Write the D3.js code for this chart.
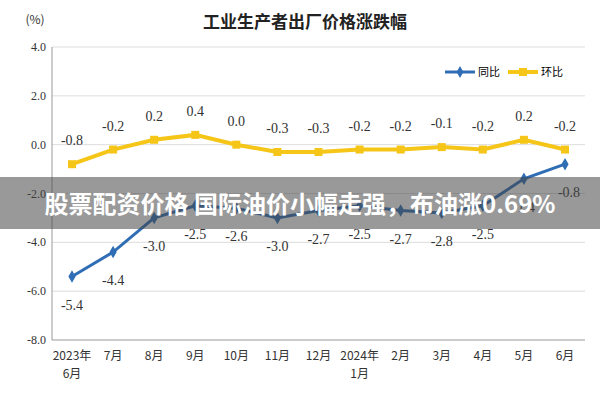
<!DOCTYPE html>
<html><head><meta charset="utf-8">
<script src="https://cdn.jsdelivr.net/npm/d3@7"></script>
<style>body{margin:0;background:#fff}</style></head>
<body><svg id="c" width="600" height="400"></svg>
<script>
const categories = [["2023年","6月"],["7月"],["8月"],["9月"],["10月"],["11月"],["12月"],["2024年","1月"],["2月"],["3月"],["4月"],["5月"],["6月"]];
const yoy = [-5.4,-4.4,-3.0,-2.5,-2.6,-3.0,-2.7,-2.5,-2.7,-2.8,-2.5,-1.4,-0.8];
const mom = [-0.8,-0.2,0.2,0.4,0.0,-0.3,-0.3,-0.2,-0.2,-0.1,-0.2,0.2,-0.2];
const yTicks = [4,2,0,-2,-4,-6,-8];
const svg = d3.select("#c");
const x = d3.scalePoint().domain(d3.range(categories.length)).range([72,565]);
const y = d3.scaleLinear().domain([-8,4]).range([340,47]);
const serif = "'Liberation Serif','DejaVu Serif',serif";
const sans = "'Noto Sans CJK SC',sans-serif";
svg.append("g").selectAll("line").data(yTicks).join("line")
  .attr("x1",52).attr("x2",585).attr("y1",d=>y(d)).attr("y2",d=>y(d))
  .attr("stroke",d=>d===-8?"#999":"#ddd");
svg.append("line").attr("x1",52).attr("x2",52).attr("y1",47).attr("y2",340).attr("stroke","#999");
svg.append("g").selectAll("text").data(yTicks).join("text")
  .attr("x",46).attr("y",d=>y(d)+4).attr("text-anchor","end")
  .attr("font-family",serif).attr("font-size",12).attr("fill","#333").text(d=>d.toFixed(1));
const xl = svg.append("g").selectAll("text").data(categories).join("text")
  .attr("x",(d,i)=>x(i)).attr("y",360).attr("text-anchor","middle")
  .attr("font-family",sans).attr("font-size",12).attr("fill","#333");
xl.selectAll("tspan").data(d=>d).join("tspan").attr("x",function(){return this.parentNode.getAttribute("x")})
  .attr("dy",(d,i)=>i?18:0).text(d=>d);
svg.append("text").attr("x",35).attr("y",24).attr("text-anchor","middle").attr("font-family",sans).attr("font-size",12).attr("fill","#333").text("(%)");
svg.append("text").attr("x",305).attr("y",28).attr("text-anchor","middle").attr("font-family",sans).attr("font-size",17).attr("font-weight","bold").attr("fill","#222").text("工业生产者出厂价格涨跌幅");
const line = d3.line().x((d,i)=>x(i)).y(d=>y(d));
const blue="#2f6db5", yel="#f5c518";
svg.append("path").datum(mom).attr("d",line).attr("fill","none").attr("stroke",yel).attr("stroke-width",4);
svg.append("g").selectAll("rect").data(mom).join("rect").attr("x",(d,i)=>x(i)-4).attr("y",d=>y(d)-4).attr("width",8).attr("height",8).attr("fill",yel);
svg.append("path").datum(yoy).attr("d",line).attr("fill","none").attr("stroke",blue).attr("stroke-width",3);
svg.append("g").selectAll("path").data(yoy).join("path").attr("d",d3.symbol(d3.symbolDiamond,45)).attr("transform",(d,i)=>`translate(${x(i)},${y(d)})`).attr("fill",blue);
svg.append("g").selectAll("text").data(mom).join("text").attr("x",(d,i)=>x(i)).attr("y",d=>y(d)-19)
  .attr("text-anchor","middle").attr("font-family",serif).attr("font-size",14).attr("fill","#333").text(d=>d.toFixed(1));
svg.append("g").selectAll("text").data(yoy).join("text").attr("x",(d,i)=>x(i)+(i===12?4:0)).attr("y",d=>y(d)+33)
  .attr("text-anchor","middle").attr("font-family",serif).attr("font-size",14).attr("fill","#333").text(d=>d.toFixed(1));
const lg = svg.append("g").attr("transform","translate(445,72)");
lg.append("line").attr("x1",0).attr("x2",30).attr("stroke",blue).attr("stroke-width",3);
lg.append("path").attr("d",d3.symbol(d3.symbolDiamond,40)).attr("transform","translate(15,0)").attr("fill",blue);
lg.append("text").attr("x",33).attr("y",4).attr("font-family",sans).attr("font-size",11).text("同比");
lg.append("line").attr("x1",63).attr("x2",93).attr("stroke",yel).attr("stroke-width",4);
lg.append("rect").attr("x",74).attr("y",-4).attr("width",8).attr("height",8).attr("fill",yel);
lg.append("text").attr("x",96).attr("y",4).attr("font-family",sans).attr("font-size",11).text("环比");
svg.append("rect").attr("x",0).attr("y",177).attr("width",600).attr("height",52).attr("fill","rgba(70,70,70,0.55)");
svg.append("text").attr("x",300).attr("y",213).attr("text-anchor","middle").attr("font-family",sans).attr("font-size",24).attr("font-weight","bold").attr("fill","#fff").text("股票配资价格 国际油价小幅走强，布油涨0.69%");
</script></body></html>
